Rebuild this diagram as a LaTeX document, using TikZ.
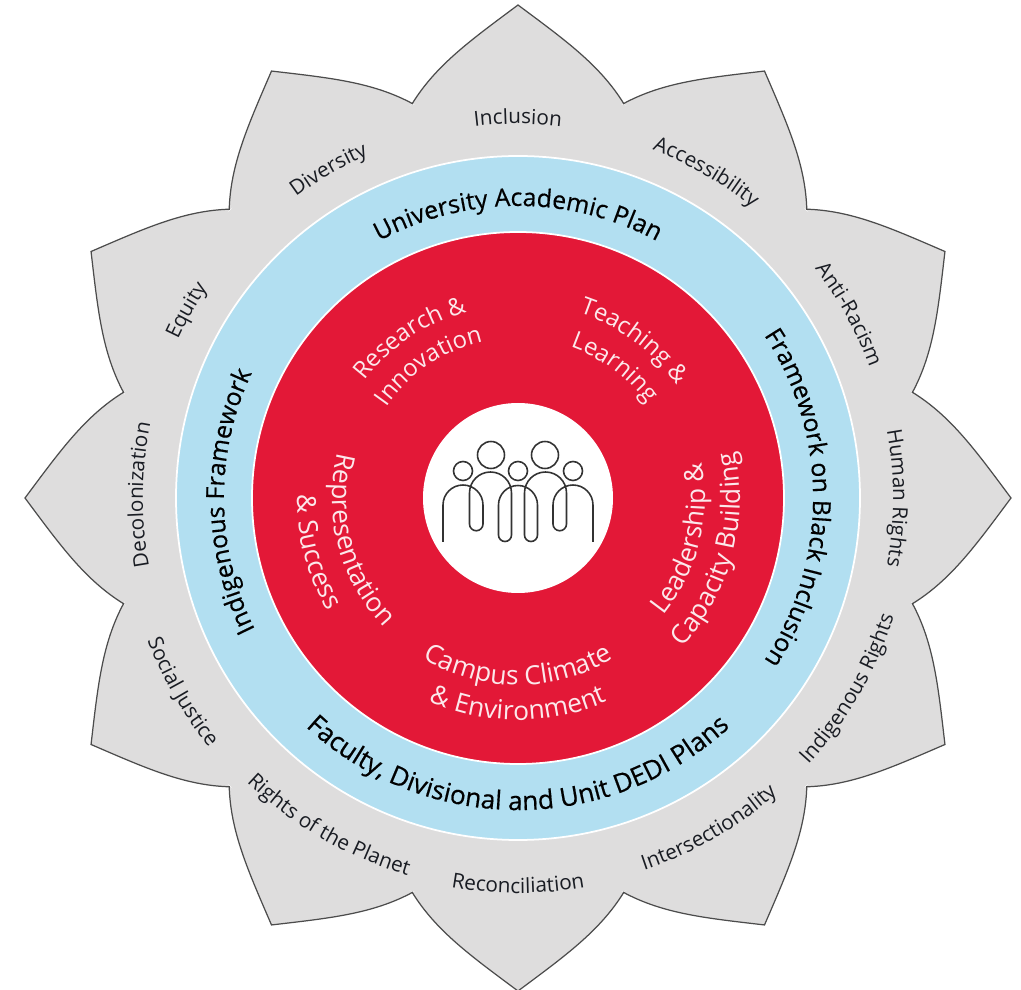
\documentclass[tikz,border=0pt]{standalone}
\usepackage{fontspec}
\setmainfont{Open Sans}
\usetikzlibrary{decorations.text}
\newfontface\ringface[FakeBold=0.5]{Open Sans}
\definecolor{petalgray}{RGB}{222,221,221}
\definecolor{ringblue}{RGB}{178,223,241}
\definecolor{corered}{RGB}{227,24,55}
\definecolor{darktext}{RGB}{25,28,35}
\tikzstyle{petal} = [draw=black!70, line width=0.7pt]
\tikzstyle{disc} = [draw=white, line width=1pt]
\tikzstyle{people} = [draw=black!80, line width=0.9pt]
\newcommand{\petalfont}{\fontsize{11.8}{14}\selectfont\color{darktext}}
\newcommand{\ringfont}{\fontsize{14.1}{17}\ringface\color{black}}
\newcommand{\widefont}{\fontsize{14.9}{17}\ringface\color{black}}
\newcommand{\corefont}{\fontsize{15}{18}\selectfont\color{white!90!corered}}
\newcommand{\topfont}{\fontsize{13.6}{18}\selectfont\color{white!90!corered}}
% compass angle, baseline radius, +1 clockwise / -1 anticlockwise, font, text
\newcommand{\arclabel}[5]{%
  \path[decorate,decoration={text along path,text align=center,text={|#4|#5}}]
    ({90-#1+70*#3}:#2) arc[start angle={90-#1+70*#3},end angle={90-#1-70*#3},radius=#2];}
\begin{document}
\begin{tikzpicture}[x=0.02cm,y=0.02cm]
  \useasboundingbox (-518,-492) rectangle (503,498);
  % outer petals
  \foreach \a in {0,30,...,330}
    \fill[petalgray,rotate=\a] (106,394) .. controls (82,433) and (47,458) .. (0,493)
      .. controls (-47,458) and (-82,433) .. (-106,394) -- cycle;
  \fill[petalgray] (0,0) circle (407);
  \foreach \a in {0,30,...,330}
    \draw[petal,rotate=\a] (106,394) .. controls (82,433) and (47,458) .. (0,493)
      .. controls (-47,458) and (-82,433) .. (-106,394);
  % rings
  \draw[disc,fill=ringblue] (0,0) circle (342);
  \draw[disc,fill=corered] (0,0) circle (266);
  \fill[white] (0,0) circle (95);
  % group of people
  \foreach \x/\y/\r in {-27/43/13.5,27/43/13.5,-55/27/9.5,0/27/9.5,55/27/9.5}
    \draw[people] (\x,\y) circle (\r);
  \draw[people] (-75,-44) -- (-75,-7) arc[start angle=180,end angle=0,radius=20]
    -- (-35,-26) arc[start angle=0,end angle=-180,radius=6.75]
    -- (-48.5,5) arc[start angle=180,end angle=0,radius=21]
    -- (-6.5,-37) arc[start angle=0,end angle=-180,radius=6.5]
    -- (-19.5,-7) arc[start angle=180,end angle=0,radius=19.5]
    -- (19.5,-37) arc[start angle=0,end angle=-180,radius=6.5]
    -- (6.5,5) arc[start angle=180,end angle=0,radius=21]
    -- (48.5,-26) arc[start angle=0,end angle=-180,radius=6.75]
    -- (35,-7) arc[start angle=180,end angle=0,radius=20]
    -- (75,-44);
  % petal labels
  \arclabel{0}{374}{1}{\petalfont}{Inclusion}
  \arclabel{30}{373}{1}{\petalfont}{Accessibility}
  \arclabel{61}{375}{1}{\petalfont}{Anti-Racism}
  \arclabel{90}{375}{1}{\petalfont}{Human Rights}
  \arclabel{120}{394}{-1}{\petalfont}{Indigenous Rights}
  \arclabel{150}{393}{-1}{\petalfont}{Intersectionality}
  \arclabel{180}{395}{-1}{\petalfont}{Reconciliation}
  \arclabel{210}{393}{-1}{\petalfont}{Rights of the Planet}
  \arclabel{240}{397}{-1}{\petalfont}{Social Justice}
  \arclabel{270.5}{375}{1}{\petalfont}{Decolonization}
  \arclabel{299.5}{375}{1}{\petalfont}{Equity}
  \arclabel{330}{374}{1}{\petalfont}{Diversity}
  % ring labels
  \arclabel{0}{292}{1}{\ringfont}{University Academic Plan}
  \arclabel{90}{295}{1}{\ringfont}{Framework on Black Inclusion}
  \arclabel{180}{312}{-1}{\widefont}{Faculty, Divisional and Unit DEDI Plans}
  \arclabel{269.3}{294}{1}{\ringfont}{Indigenous Framework}
  % core labels
  \arclabel{-34}{193}{1}{\topfont}{Research {\&}}
  \arclabel{-34}{160}{1}{\topfont}{Innovation}
  \arclabel{36.5}{195}{1}{\topfont}{Teaching {\&}}
  \arclabel{36.5}{160}{1}{\topfont}{Learning}
  \arclabel{104}{187}{-1}{\corefont}{Leadership {\&}}
  \arclabel{105}{222}{-1}{\corefont}{Capacity Building}
  \arclabel{180}{187}{-1}{\corefont}{Campus Climate}
  \arclabel{180}{222}{-1}{\corefont}{{\&} Environment}
  \arclabel{255}{186}{-1}{\corefont}{Representation}
  \arclabel{255}{221}{-1}{\corefont}{{\&} Success}
\end{tikzpicture}
\end{document}
